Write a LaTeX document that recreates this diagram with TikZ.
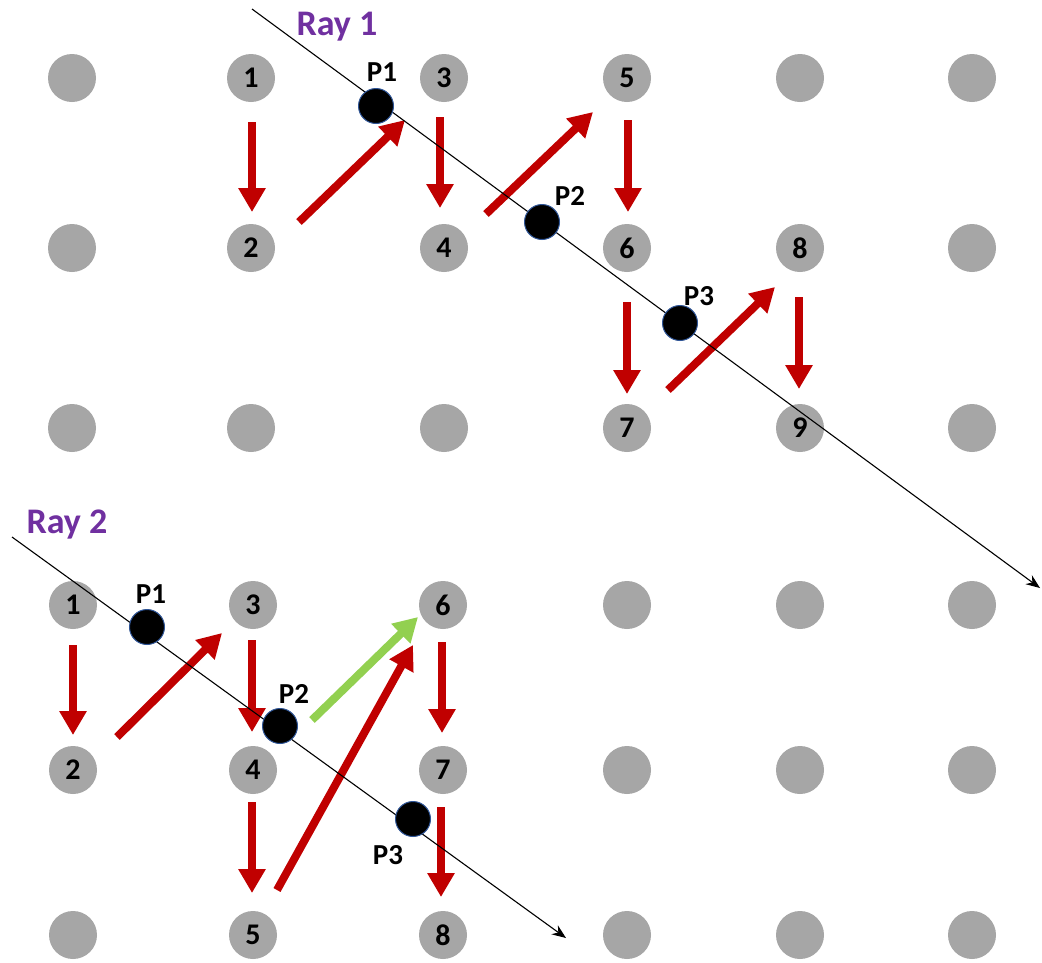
\documentclass[tikz,border=0pt]{standalone}
\usepackage{fontspec}
\setmainfont{Carlito}
\usetikzlibrary{arrows.meta}
\definecolor{dotgray}{HTML}{A6A6A6}
\definecolor{arrred}{HTML}{C00000}
\definecolor{arrgreen}{HTML}{92D050}
\definecolor{raypurple}{HTML}{7030A0}
\definecolor{pedge}{HTML}{2F5597}
\tikzset{
  dot/.style={circle,fill=dotgray,minimum size=48pt,inner sep=0pt,font=\fontsize{30}{30}\selectfont\bfseries},
  pdot/.style={circle,fill=black,draw=pedge,line width=1pt,minimum size=35pt,inner sep=0pt},
  plabel/.style={font=\fontsize{29}{29}\selectfont\bfseries},
  raylabel/.style={font=\fontsize{36}{36}\selectfont\bfseries,text=raypurple},
  redarrow/.style={arrred,line width=8pt,-{Triangle[width=26pt,length=24pt]}},
  greenarrow/.style={arrgreen,line width=8pt,-{Triangle[width=26pt,length=24pt]}},
  rayline/.style={black,line width=1.1pt,-{Stealth[length=14pt,width=11pt]}}
}
\begin{document}
\begin{tikzpicture}[x=1pt,y=-1pt]
\path[fill=white] (0,0) rectangle (1042,962);
\useasboundingbox (0,0) rectangle (1042,962);
% ---------- top grid ----------
\node[dot] (ta1) at (72,78) {};
\node[dot] (t1) at (251,78) {1};
\node[dot] (t3) at (444,78) {3};
\node[dot] (t5) at (627,78) {5};
\node[dot] (ta5) at (800,78) {};
\node[dot] (ta6) at (972,78) {};
\node[dot] (tb1) at (72,248) {};
\node[dot] (t2) at (251,248) {2};
\node[dot] (t4) at (444,248) {4};
\node[dot] (t6) at (627,248) {6};
\node[dot] (t8) at (800,248) {8};
\node[dot] (tb6) at (972,248) {};
\node[dot] (tc1) at (72,428) {};
\node[dot] (tc2) at (251,428) {};
\node[dot] (tc3) at (444,428) {};
\node[dot] (t7) at (627,428) {7};
\node[dot] (t9) at (800,428) {9};
\node[dot] (tc6) at (972,428) {};
% ---------- bottom grid ----------
\node[dot] (b1) at (73,605) {1};
\node[dot] (b3) at (253,605) {3};
\node[dot] (b6) at (443,605) {6};
\node[dot] (ba4) at (627,605) {};
\node[dot] (ba5) at (800,605) {};
\node[dot] (ba6) at (972,605) {};
\node[dot] (b2) at (73,770) {2};
\node[dot] (b4) at (253,770) {4};
\node[dot] (b7) at (443,770) {7};
\node[dot] (bb4) at (627,770) {};
\node[dot] (bb5) at (800,770) {};
\node[dot] (bb6) at (972,770) {};
\node[dot] (bc1) at (73,935) {};
\node[dot] (b5) at (253,935) {5};
\node[dot] (b8) at (443,935) {8};
\node[dot] (bc4) at (627,935) {};
\node[dot] (bc5) at (800,935) {};
\node[dot] (bc6) at (972,935) {};
% ---------- arrow end coordinates (top) ----------
\coordinate (a12s) at (252,122); \coordinate (a12e) at (252,212);
\coordinate (a2ps) at (299,222); \coordinate (a2pe) at (405,120);
\coordinate (a34s) at (440,117); \coordinate (a34e) at (440,208);
\coordinate (a45s) at (486,214); \coordinate (a45e) at (593,112);
\coordinate (a56s) at (628,120); \coordinate (a56e) at (628,212);
\coordinate (a67s) at (627,302); \coordinate (a67e) at (627,394);
\coordinate (a78s) at (668,390); \coordinate (a78e) at (775,287);
\coordinate (a89s) at (799,297); \coordinate (a89e) at (799,389);
\draw[redarrow] (a12s) -- (a12e);
\draw[redarrow] (a2ps) -- (a2pe);
\draw[redarrow] (a34s) -- (a34e);
\draw[redarrow] (a45s) -- (a45e);
\draw[redarrow] (a56s) -- (a56e);
\draw[redarrow] (a67s) -- (a67e);
\draw[redarrow] (a78s) -- (a78e);
\draw[redarrow] (a89s) -- (a89e);
% ---------- arrow end coordinates (bottom) ----------
\coordinate (c12s) at (73,645); \coordinate (c12e) at (73,735);
\coordinate (c23s) at (117,737); \coordinate (c23e) at (222,633);
\coordinate (c34s) at (252,640); \coordinate (c34e) at (252,732);
\coordinate (c45s) at (252,802); \coordinate (c45e) at (252,893);
\coordinate (c56s) at (277,890); \coordinate (c56e) at (413,645);
\coordinate (cgs) at (312,720); \coordinate (cge) at (418,617);
\coordinate (c67s) at (442,642); \coordinate (c67e) at (442,733);
\coordinate (c78s) at (441,807); \coordinate (c78e) at (441,897);
\draw[redarrow] (c12s) -- (c12e);
\draw[redarrow] (c23s) -- (c23e);
\draw[redarrow] (c34s) -- (c34e);
\draw[redarrow] (c45s) -- (c45e);
\draw[redarrow] (c56s) -- (c56e);
\draw[greenarrow] (cgs) -- (cge);
\draw[redarrow] (c67s) -- (c67e);
\draw[redarrow] (c78s) -- (c78e);
% ---------- rays ----------
\coordinate (r1s) at (252,9); \coordinate (r1e) at (1040,588);
\draw[rayline] (r1s) -- (r1e);
\coordinate (r2s) at (12,537); \coordinate (r2e) at (566,938);
\draw[rayline] (r2s) -- (r2e);
\node[raylabel] (ray1) at (337,27) {Ray 1};
\node[raylabel] (ray2) at (67,525) {Ray 2};
% ---------- intersection points ----------
\node[pdot] (tp1) at (376,106) {};
\node[pdot] (tp2) at (542,222) {};
\node[pdot] (tp3) at (680,323) {};
\node[plabel] at (382,72) {P1};
\node[plabel] at (570,196) {P2};
\node[plabel] at (699,296) {P3};
\node[pdot] (bp1) at (147,627) {};
\node[pdot] (bp2) at (280,726) {};
\node[pdot] (bp3) at (413,819) {};
\node[plabel] at (151,594) {P1};
\node[plabel] at (294,694) {P2};
\node[plabel] at (388,855) {P3};
\end{tikzpicture}
\end{document}
